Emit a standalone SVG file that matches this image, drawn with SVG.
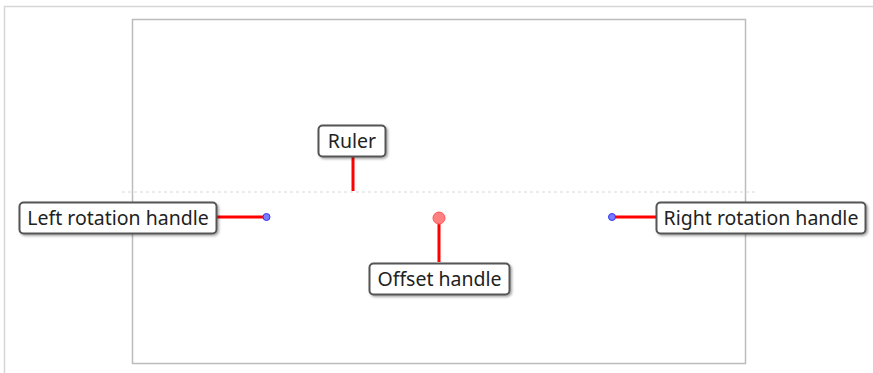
<svg xmlns="http://www.w3.org/2000/svg" width="873" height="373" viewBox="0 0 873 373">
<defs>
<filter id="sh" x="-10%" y="-20%" width="130%" height="150%">
<feDropShadow dx="1.5" dy="1.5" stdDeviation="1.2" flood-color="#000" flood-opacity="0.35"/>
</filter>
</defs>
<style>
.lbl rect{fill:#fff;stroke:#555;stroke-width:2;filter:url(#sh)}
.lbl text{font-family:"Noto Sans","Open Sans",sans-serif;font-size:19.5px;fill:#222;text-anchor:middle}
.lead{stroke:#f00;stroke-width:3;fill:none}
.rot{fill:#7b7bff;stroke:#33f;stroke-width:1}
</style>
<rect x="0" y="0" width="873" height="373" fill="#fff"/>
<path d="M4.5 373 V6.5 H873" fill="none" stroke="#d6d6d6" stroke-width="1.5"/>
<rect id="canvas" x="132.5" y="19.5" width="613" height="344" fill="#fff" stroke="#bcbcbc" stroke-width="1.5"/>
<line x1="122" y1="192" x2="758" y2="192" stroke="#d8d8d8" stroke-width="1" stroke-dasharray="3,3"/>
<g id="connectors">
<line class="lead" x1="217" y1="217" x2="266" y2="217"/>
<line class="lead" x1="353" y1="157" x2="353" y2="191"/>
<line class="lead" x1="439" y1="223" x2="439" y2="262"/>
<line class="lead" x1="612" y1="217" x2="656" y2="217"/>
</g>
<g id="left-handle"><circle class="rot" cx="266.5" cy="217" r="3.5"/></g>
<g id="right-handle"><circle class="rot" cx="612" cy="217" r="3.5"/></g>
<g id="offset-handle"><circle cx="439" cy="218" r="6" fill="#ff8080" stroke="#f55" stroke-width="1"/></g>
<g id="label-left" class="lbl"><rect x="19.5" y="202.5" width="197" height="31" rx="4"/><text x="118" y="225">Left rotation handle</text></g>
<g id="label-ruler" class="lbl"><rect x="318.5" y="125.5" width="67" height="31" rx="4"/><text x="352" y="148">Ruler</text></g>
<g id="label-offset" class="lbl"><rect x="369.5" y="263.5" width="140" height="31" rx="4"/><text x="439.5" y="286">Offset handle</text></g>
<g id="label-right" class="lbl"><rect x="656.5" y="202.5" width="209" height="31" rx="4"/><text x="761" y="225">Right rotation handle</text></g>
</svg>
